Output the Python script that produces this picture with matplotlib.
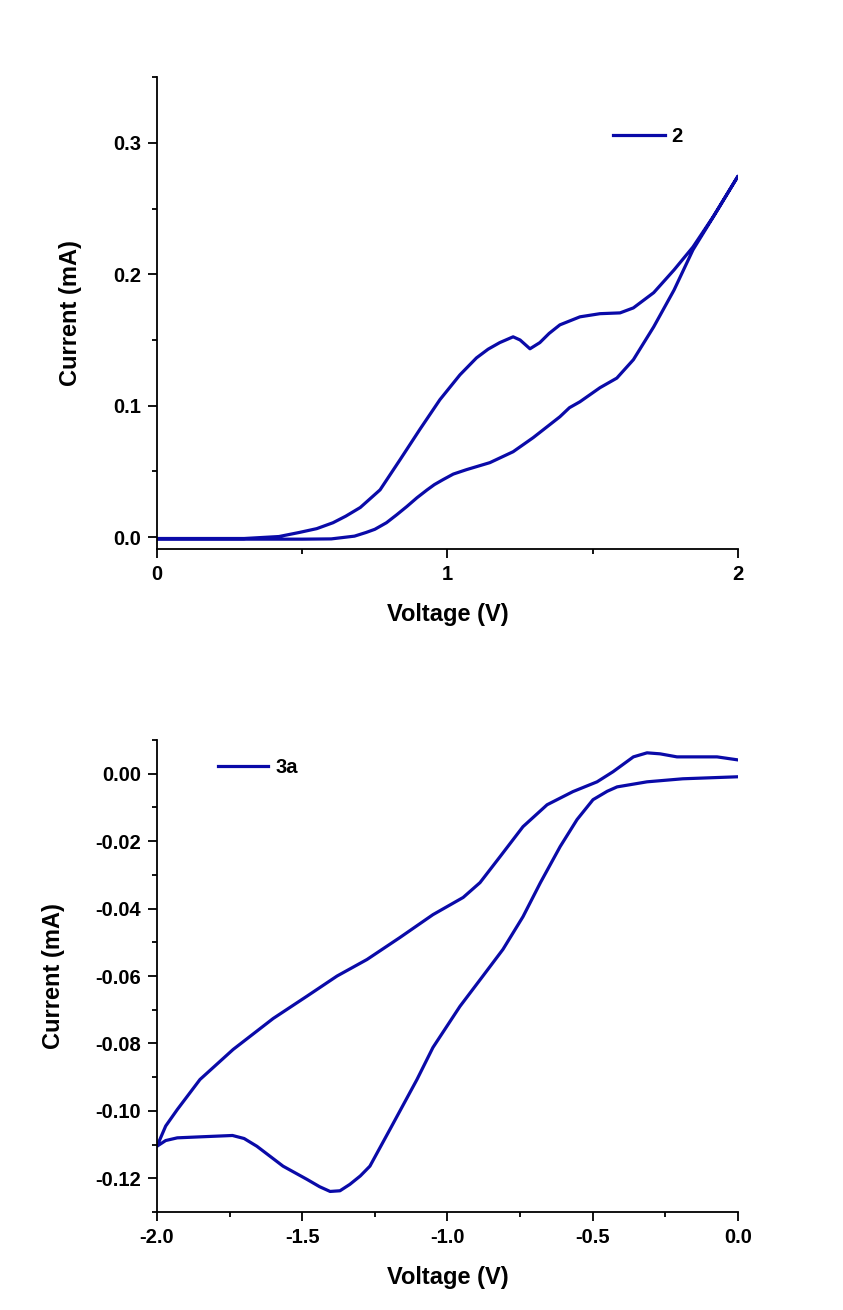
import matplotlib
matplotlib.use("Agg")
import matplotlib.pyplot as plt
from matplotlib.ticker import MultipleLocator, FormatStrFormatter

# ---- Data: panel 1 (compound 2) ----
v2_up = [0.0, 0.3, 0.42, 0.49, 0.55, 0.606, 0.65, 0.70, 0.768, 0.837, 0.905, 0.974,
         1.043, 1.10, 1.14, 1.18, 1.226, 1.25, 1.284, 1.318, 1.35, 1.387, 1.456,
         1.525, 1.594, 1.64, 1.71, 1.78, 1.845, 1.914, 2.0]
i2_up = [-0.001, -0.001, 0.0005, 0.0036, 0.0065, 0.011, 0.016, 0.0226, 0.036, 0.059,
         0.082, 0.1046, 0.1235, 0.1364, 0.143, 0.148, 0.1524, 0.150, 0.1433, 0.148,
         0.155, 0.1615, 0.1676, 0.170, 0.1706, 0.1744, 0.186, 0.2033, 0.2207, 0.2435,
         0.2746]
v2_lo = [2.0, 1.93, 1.845, 1.78, 1.71, 1.64, 1.583, 1.525, 1.456, 1.42, 1.387, 1.295,
         1.226, 1.146, 1.066, 1.02, 0.985, 0.955, 0.93, 0.895, 0.86, 0.825, 0.79, 0.75,
         0.72, 0.68, 0.6, 0.5, 0.0]
i2_lo = [0.2746, 0.249, 0.2185, 0.188, 0.160, 0.135, 0.121, 0.1137, 0.103, 0.0985,
         0.0916, 0.0757, 0.065, 0.0567, 0.0514, 0.048, 0.0438, 0.040, 0.036, 0.030,
         0.0233, 0.017, 0.011, 0.006, 0.0036, 0.0008, -0.0013, -0.0015, -0.0015]

# ---- Data: panel 2 (compound 3a) ----
v3_up = [0.0, -0.072, -0.21, -0.268, -0.313, -0.36, -0.43, -0.485, -0.568, -0.657,
         -0.74, -0.819, -0.888, -0.946, -1.05, -1.164, -1.277, -1.38, -1.484, -1.6,
         -1.738, -1.852, -1.93, -1.97, -2.0]
i3_up = [0.0041, 0.0050, 0.0050, 0.0059, 0.0062, 0.0050, 0.0006, -0.0024, -0.0053,
         -0.0092, -0.0157, -0.0246, -0.0323, -0.0367, -0.0418, -0.0486, -0.0551,
         -0.060, -0.066, -0.0726, -0.0818, -0.0907, -0.0996, -0.1045, -0.1105]
v3_lo = [-2.0, -1.97, -1.93, -1.85, -1.74, -1.70, -1.656, -1.566, -1.484, -1.44,
         -1.404, -1.37, -1.336, -1.30, -1.267, -1.198, -1.105, -1.05, -0.957, -0.878,
         -0.809, -0.74, -0.68, -0.612, -0.554, -0.499, -0.45, -0.416, -0.313, -0.19, 0.0]
i3_lo = [-0.1105, -0.1088, -0.108, -0.1077, -0.1073, -0.1082, -0.1105, -0.1164,
         -0.1203, -0.1225, -0.1239, -0.1237, -0.1218, -0.1193, -0.1164, -0.1055,
         -0.0907, -0.0812, -0.069, -0.060, -0.0521, -0.0424, -0.0323, -0.0216, -0.0136,
         -0.0077, -0.0052, -0.0039, -0.0024, -0.0015, -0.0009]

label2 = "2"
label3 = "3a"

COLOR = "#0A0AA8"
plt.rcParams['font.family'] = ['Liberation Sans', 'DejaVu Sans']
plt.rcParams['font.weight'] = 'bold'

fig = plt.figure(figsize=(8.43, 13.10), dpi=100)
ax1 = fig.add_axes([0.1862, 0.5809, 0.6892, 0.3603])
ax2 = fig.add_axes([0.1862, 0.0748, 0.6892, 0.3603])

ax1.plot(v2_up + v2_lo, i2_up + i2_lo, color=COLOR, lw=2.3, label=label2,
         solid_joinstyle='round')
ax2.plot(v3_up + v3_lo, i3_up + i3_lo, color=COLOR, lw=2.3, label=label3,
         solid_joinstyle='round')

ax1.set_xlim(0, 2)
ax1.set_ylim(-0.009, 0.35)
ax1.xaxis.set_major_locator(MultipleLocator(1))
ax1.xaxis.set_minor_locator(MultipleLocator(0.5))
ax1.yaxis.set_major_locator(MultipleLocator(0.1))
ax1.yaxis.set_minor_locator(MultipleLocator(0.05))
ax1.xaxis.set_major_formatter(FormatStrFormatter('%d'))
ax1.yaxis.set_major_formatter(FormatStrFormatter('%.1f'))

ax2.set_xlim(-2, 0)
ax2.set_ylim(-0.13, 0.01)
ax2.xaxis.set_major_locator(MultipleLocator(0.5))
ax2.xaxis.set_minor_locator(MultipleLocator(0.25))
ax2.yaxis.set_major_locator(MultipleLocator(0.02))
ax2.yaxis.set_minor_locator(MultipleLocator(0.01))
ax2.xaxis.set_major_formatter(FormatStrFormatter('%.1f'))
ax2.yaxis.set_major_formatter(FormatStrFormatter('%.2f'))

for ax in (ax1, ax2):
    for s in ('top', 'right'):
        ax.spines[s].set_visible(False)
    for s in ('left', 'bottom'):
        ax.spines[s].set_linewidth(1.3)
    ax.tick_params(which='major', direction='out', length=6.5, width=1.3,
                   labelsize=14.5, pad=5)
    ax.tick_params(which='minor', direction='out', length=3.4, width=1.3)
    for lab in ax.get_xticklabels() + ax.get_yticklabels():
        lab.set_fontweight('bold')
    ax.set_xlabel("Voltage (V)", fontsize=17, fontweight='bold', labelpad=14)
    ax.set_ylabel("Current (mA)", fontsize=17, fontweight='bold', labelpad=22)

ax1.legend(frameon=False, loc='center left', bbox_to_anchor=(0.785, 0.873),
           borderpad=0, borderaxespad=0, handlelength=2.6, handletextpad=0.3,
           prop={'size': 14.5, 'weight': 'bold'})
ax2.legend(frameon=False, loc='center left', bbox_to_anchor=(0.105, 0.941),
           borderpad=0, borderaxespad=0, handlelength=2.5, handletextpad=0.35,
           prop={'size': 14.5, 'weight': 'bold'})

fig.savefig("out.png", dpi=100, facecolor='white')
